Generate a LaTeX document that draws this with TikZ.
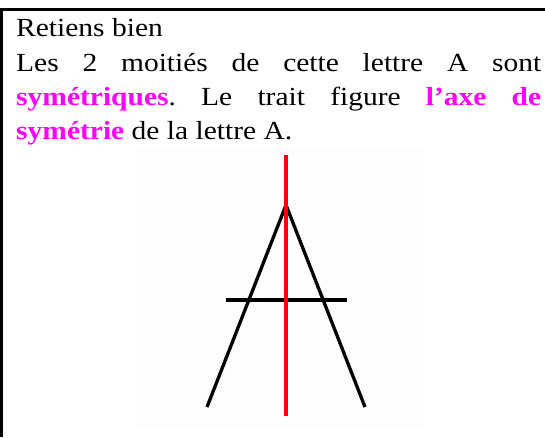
\documentclass[tikz,border=0pt]{standalone}
\usepackage{fontspec}
\setmainfont{Liberation Serif}
\usetikzlibrary{positioning}
\definecolor{cmagenta}{HTML}{FF00FF}
\definecolor{cred}{HTML}{FF0000}
\definecolor{cpaper}{HTML}{FDFDFD}
\newcommand{\mot}[1]{\textbf{\textcolor{cmagenta}{#1}}}
\frenchspacing
\tikzset{
  cadre/.style={draw=black, line width=2.6pt},
  para/.style={inner sep=0pt, text width=464.6pt, align=justify, xscale=1.13,
    font=\fontsize{26.1}{34.3}\selectfont},
  trait/.style={draw=black, line width=3.3pt},
  axe/.style={draw=cred, line width=3.5pt},
}

\begin{document}
\begin{tikzpicture}[x=1pt, y=-1pt]
  \useasboundingbox (0,0) rectangle (545,437);
  \draw[cadre] (1.3,437) -- (1.3,9.5) -- (545,9.5);
  \node[para, anchor=base west] (regle) at (16,36.7)
    {Retiens bien\\Les 2 moitiés de cette lettre A sont\linebreak
     \mot{symétriques}. Le trait figure \mot{l’axe de}\linebreak
     \mot{symétrie} de la lettre A.};
  % la lettre A et son axe
  \fill[cpaper] (135,147) rectangle (424,428);
  \coordinate (sommet) at (286,205);
  \coordinate (piedG) at (207,407);
  \coordinate (piedD) at (365,407);
  \coordinate (barreG) at (226,300);
  \coordinate (barreD) at (347,300);
  \coordinate (axeH) at (286,155);
  \coordinate (axeB) at (286,416);
  \draw[trait] (piedG) -- (sommet) -- (piedD);
  \draw[trait] (barreG) -- (barreD);
  \draw[axe] (axeH) -- (axeB);
\end{tikzpicture}
\end{document}
